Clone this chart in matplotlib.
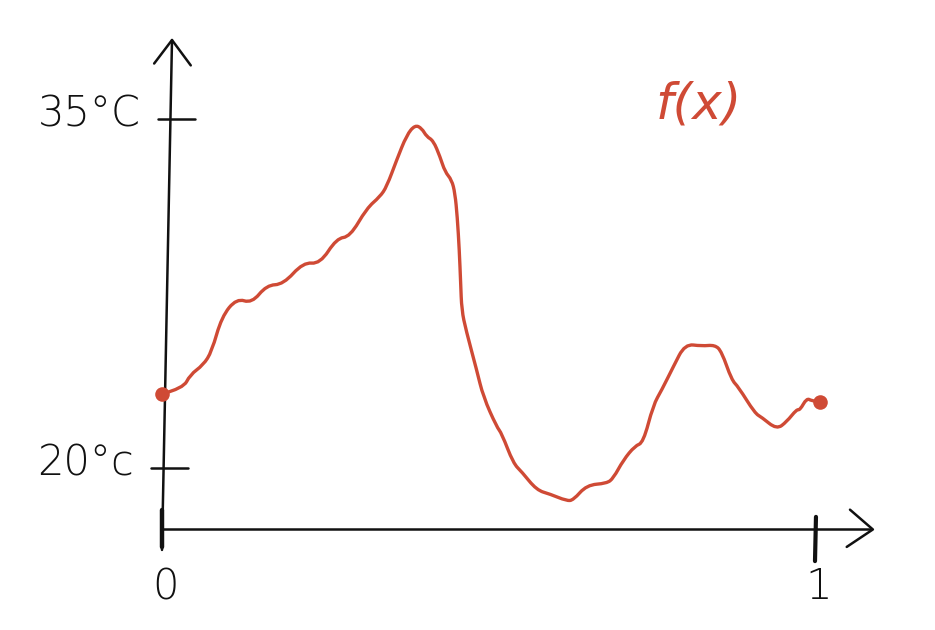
import matplotlib
matplotlib.use('Agg')
import matplotlib.pyplot as plt
from matplotlib.path import Path
from matplotlib.patches import PathPatch
import numpy as np

# hand sketch of a temperature curve f(x) over x in [0, 1]
x_vals = [0.0, 0.0326, 0.0428, 0.0631, 0.0760, 0.0913, 0.1142, 0.1372, 0.1601, 0.1855,
          0.2161, 0.2416, 0.2671, 0.2875, 0.3130, 0.3333, 0.3436, 0.3589, 0.3742, 0.3869,
          0.3971, 0.4047, 0.4148, 0.4251, 0.4327, 0.4430, 0.4480, 0.4515, 0.4546, 0.4567,
          0.4583, 0.4648, 0.4812, 0.4913, 0.5118, 0.5194, 0.5372, 0.5500, 0.5729, 0.5933,
          0.6188, 0.6289, 0.6494, 0.6800, 0.6901, 0.7054, 0.7232, 0.7359, 0.7512, 0.7641,
          0.7818, 0.7997, 0.8252, 0.8456, 0.8558, 0.8711, 0.8812, 0.9067, 0.9170, 0.9399,
          0.9552, 0.9705, 0.9755, 0.9858, 0.9934, 1.0061]
temp_vals = [23.18, 23.43, 24.00, 24.43, 25.00, 26.50, 27.29, 27.08, 27.86, 27.89,
             28.84, 28.77, 29.87, 29.94, 31.16, 31.66, 32.09, 33.24, 34.31, 34.74,
             34.60, 34.24, 34.07, 33.38, 32.73, 32.38, 31.81, 30.80, 29.37, 27.94,
             26.79, 25.93, 24.21, 23.06, 21.77, 21.49, 20.20, 19.84, 19.05, 18.88,
             18.59, 18.62, 19.27, 19.34, 19.56, 20.34, 20.95, 21.09, 22.71, 23.35,
             24.35, 25.33, 25.24, 25.29, 25.00, 23.78, 23.49, 22.35, 22.18, 21.66,
             21.99, 22.52, 22.49, 23.00, 22.89, 22.85]

y_ticks = [20, 35]
y_tick_labels = ['20°c', '35°C']
x_ticks = [0, 1]
x_tick_labels = ['0', '1']

red = '#cf4a35'
ink = '#111111'

fig = plt.figure(figsize=(9.35, 6.3), dpi=100)
ax = fig.add_axes([0, 0, 1, 1])
ax.set_xlim(-0.2477, 1.182)
ax.set_ylim(13.04, 40.11)
ax.axis('off')

# axes drawn like pen strokes (y axis leans a little)
x_axis_y = 17.36
ax.plot([0.0, 1.082], [x_axis_y, x_axis_y], color=ink, lw=1.8, solid_capstyle='round')
ax.plot([1.082 - 0.03, 1.087, 1.082 - 0.035], [x_axis_y + 0.85, x_axis_y, x_axis_y - 0.75],
        color=ink, lw=1.8, solid_capstyle='round', solid_joinstyle='round')
ax.plot([0.0, 0.0153], [16.48, 38.39], color=ink, lw=1.8, solid_capstyle='round')
ax.plot([-0.012, 0.0153, 0.044], [37.38, 38.39, 37.3], color=ink, lw=1.8,
        solid_capstyle='round', solid_joinstyle='round')

# origin and x=1 marks
ax.plot([0.0, 0.0], [16.6, 18.2], color=ink, lw=3.2, solid_capstyle='round')
ax.plot([0.9985, 1.0], [16.0, 17.9], color=ink, lw=3.0, solid_capstyle='round')

# y ticks
for t, lab in zip(y_ticks, y_tick_labels):
    x_at = 0.0153 * (t - 16.48) / (38.39 - 16.48)
    ax.plot([x_at - 0.019, x_at + 0.038], [t, t], color=ink, lw=1.8, solid_capstyle='round')
    ax.text(x_at - 0.045, t + 0.2, lab, ha='right', va='center', fontsize=30,
            color=ink, fontweight='light')

for xv, lab in zip(x_ticks, x_tick_labels):
    ax.text(xv + 0.006 if xv == 0 else xv + 0.004, 14.9, lab, ha='center', va='center',
            fontsize=30, color=ink, fontweight='light')

# the curve, drawn as a smooth pen stroke through the read points
pts = np.column_stack([x_vals, temp_vals])
verts = [pts[0]]
codes = [Path.MOVETO]
for i in range(1, len(pts) - 1):
    verts += [pts[i], (pts[i] + pts[i + 1]) / 2]
    codes += [Path.CURVE3, Path.CURVE3]
verts.append(pts[-1])
codes.append(Path.LINETO)
ax.add_patch(PathPatch(Path(verts, codes), facecolor='none', edgecolor=red, lw=2.4,
                       capstyle='round', joinstyle='round', transform=ax.transData))
ax.plot([x_vals[0], x_vals[-1]], [temp_vals[0], temp_vals[-1]], 'o', color=red,
        markersize=10.5, markeredgewidth=0)

ax.text(0.82, 35.6, 'f(x)', ha='center', va='center', fontsize=36, color=red,
        fontstyle='italic', fontweight='light')

fig.savefig('out.png', dpi=100, facecolor='white')
